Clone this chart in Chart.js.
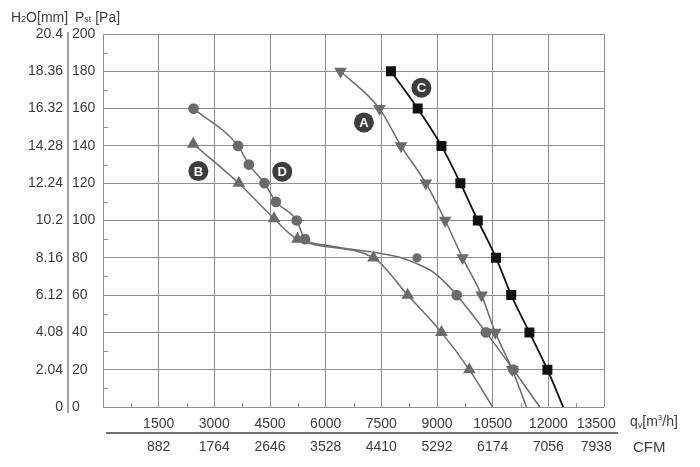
<!DOCTYPE html>
<html>
<head>
<meta charset="utf-8">
<script src="https://cdn.jsdelivr.net/npm/chart.js@4.4.0/dist/chart.umd.min.js"></script>
<style>
html, body { margin: 0; padding: 0; background: #fff; }
</style>
</head>
<body>
<canvas id="fanChart" width="700" height="467"></canvas>
<script>
// axis ticks
var qvTicks = [0, 1500, 3000, 4500, 6000, 7500, 9000, 10500, 12000, 13500];
var cfmTicks = ['', '882', '1764', '2646', '3528', '4410', '5292', '6174', '7056', '7938'];
var paTicks = [0, 20, 40, 60, 80, 100, 120, 140, 160, 180, 200];
var h2oTicks = ['0', '2.04', '4.08', '6.12', '8.16', '10.2', '12.24', '14.28', '16.32', '18.36', '20.4'];

// curve A (down triangles)
var aFlow = [6400, 7450, 8030, 8700, 9220, 9690, 10200, 10570, 11030, 11410];
var aPress = [180, 160, 140, 120, 100, 80, 60, 40, 20, 0];

// curve B (triangles)
var bFlow = [2430, 3660, 4610, 5240, 7290, 8210, 9120, 9870, 10500];
var bPress = [141, 120, 101, 90, 80, 60, 40, 20, 0];

// curve C (squares)
var cFlow = [7760, 8480, 9120, 9630, 10100, 10590, 11000, 11490, 11975, 12400];
var cPress = [180, 160, 140, 120, 100, 80, 60, 40, 20, 0];

// curve D (circles), dMark = 1 where a marker is drawn
var dFlow = [2440, 3640, 3930, 4350, 4660, 5220, 5440, 5970, 6640, 7450, 7990, 8440, 8880, 9240, 9530, 10320, 11060, 11770];
var dPress = [160, 140, 130, 120, 110, 100, 90, 86.9, 84.7, 82.4, 80.3, 77, 72.6, 66.3, 60, 40, 20, 0];
var dMark = [1, 1, 1, 1, 1, 1, 1, 0, 0, 0, 0, 0, 0, 0, 1, 1, 1, 0];
// stray D point off the curve
var dExtraFlow = [8460];
var dExtraPress = [80];

// curve letters
var curveNames = ['A', 'B', 'C', 'D'];
var nameFlow = [7030, 2570, 8580, 4830];
var namePress = [152.6, 126.5, 171.2, 126.2];

var textColor = '#3c3c3c';
var gridColor = '#8e8e8e';
var curveGrey = '#6b6b6b';
var fontFamily = '"Liberation Sans", Arial, sans-serif';

function toPoints(xs, ys) {
    return xs.map(function (x, i) { return { x: x, y: ys[i] }; });
}

// last bottom labels sit a bit left of the frame edge
function lastPad(label, i) {
    return i === qvTicks.length - 1 ? label + '    ' : label;
}

var fanExtras = {
    id: 'fanExtras',
    beforeDatasetsDraw: function (chart) {
        var ctx = chart.ctx, sx = chart.scales.x, sy = chart.scales.y;
        var area = chart.chartArea;
        ctx.save();
        ctx.strokeStyle = gridColor;
        ctx.lineWidth = 1;
        ctx.beginPath();
        for (var i = 0; i < qvTicks.length - 1; i++) {
            var px = Math.round(sx.getPixelForValue((qvTicks[i] + qvTicks[i + 1]) / 2)) + 0.5;
            ctx.moveTo(px, area.bottom);
            ctx.lineTo(px, area.bottom - 4);
        }
        for (var j = 0; j < paTicks.length - 1; j++) {
            var py = Math.round(sy.getPixelForValue((paTicks[j] + paTicks[j + 1]) / 2)) + 0.5;
            ctx.moveTo(area.left, py);
            ctx.lineTo(area.left + 5, py);
        }
        ctx.stroke();
        ctx.restore();
    },
    afterDraw: function (chart) {
        var ctx = chart.ctx, sx = chart.scales.x, sy = chart.scales.y;
        var area = chart.chartArea;
        ctx.save();

        // left separator and bottom separator
        ctx.strokeStyle = '#707070';
        ctx.lineWidth = 1.3;
        ctx.beginPath();
        ctx.moveTo(68, area.top - 2);
        ctx.lineTo(68, area.bottom + 6);
        ctx.stroke();
        ctx.lineWidth = 2;
        ctx.beginPath();
        ctx.moveTo(area.left + 3, 433);
        ctx.lineTo(618, 433);
        ctx.stroke();

        ctx.fillStyle = textColor;
        ctx.textBaseline = 'alphabetic';
        ctx.textAlign = 'left';
        function pieces(x, y, list) {
            list.forEach(function (p) {
                ctx.font = p[1] + 'px ' + fontFamily;
                ctx.fillText(p[0], x, y + (p[2] || 0));
                x += ctx.measureText(p[0]).width;
            });
        }
        pieces(11, 22, [['H', 14], ['2', 9], ['O[mm]', 14]]);
        pieces(75, 22, [['P', 14], ['st', 9], [' [Pa]', 14]]);
        pieces(630, 426, [['q', 14], ['v', 9, 2], ['[m', 14], ['3', 8, -6], ['/h]', 14]]);
        pieces(633, 452, [['CFM', 15]]);

        // curve badges
        curveNames.forEach(function (name, i) {
            var cx = sx.getPixelForValue(nameFlow[i]);
            var cy = sy.getPixelForValue(namePress[i]);
            ctx.fillStyle = '#3d3d3d';
            ctx.beginPath();
            ctx.arc(cx, cy, 10, 0, Math.PI * 2);
            ctx.fill();
            ctx.fillStyle = '#fff';
            ctx.font = 'bold 13px ' + fontFamily;
            ctx.textAlign = 'center';
            ctx.textBaseline = 'middle';
            ctx.fillText(name, cx, cy + 1);
        });
        ctx.restore();
    }
};

var tickFont = { family: fontFamily, size: 14 };

new Chart(document.getElementById('fanChart'), {
    type: 'line',
    data: {
        datasets: [{
            label: 'A',
            data: toPoints(aFlow, aPress),
            borderColor: curveGrey,
            backgroundColor: curveGrey,
            borderWidth: 1.5,
            pointStyle: 'triangle',
            rotation: 180,
            pointRadius: aPress.map(function (p) { return p === 0 ? 0 : 5.8; }),
            cubicInterpolationMode: 'monotone'
        }, {
            label: 'B',
            data: toPoints(bFlow, bPress),
            borderColor: curveGrey,
            backgroundColor: curveGrey,
            borderWidth: 1.5,
            pointStyle: 'triangle',
            pointRadius: bPress.map(function (p) { return p === 0 ? 0 : 5.8; }),
            cubicInterpolationMode: 'monotone'
        }, {
            label: 'C',
            data: toPoints(cFlow, cPress),
            borderColor: '#111',
            backgroundColor: '#111',
            borderWidth: 1.8,
            pointStyle: 'rect',
            pointRadius: cPress.map(function (p) { return p === 0 ? 0 : 5.8; }),
            cubicInterpolationMode: 'monotone'
        }, {
            label: 'D',
            data: toPoints(dFlow, dPress),
            borderColor: curveGrey,
            backgroundColor: curveGrey,
            borderWidth: 1.5,
            pointStyle: 'circle',
            pointRadius: dMark.map(function (m) { return m ? 4.6 : 0; }),
            cubicInterpolationMode: 'monotone'
        }, {
            label: 'D extra',
            data: toPoints(dExtraFlow, dExtraPress),
            showLine: false,
            backgroundColor: curveGrey,
            borderColor: curveGrey,
            pointStyle: 'circle',
            pointRadius: 4.6
        }]
    },
    options: {
        responsive: false,
        animation: false,
        events: [],
        layout: { padding: { top: 34, right: 96, bottom: 0, left: 0 } },
        plugins: { legend: { display: false }, tooltip: { enabled: false } },
        elements: { point: { borderWidth: 0 } },
        scales: {
            x: {
                type: 'linear', position: 'bottom', min: 0, max: 13500,
                afterBuildTicks: function (s) { s.ticks = qvTicks.map(function (v) { return { value: v }; }); },
                afterFit: function (s) { s.height = 26; },
                ticks: {
                    color: textColor, font: tickFont, padding: 9, maxRotation: 0, autoSkip: false,
                    callback: function (v, i) { return v === 0 ? '' : lastPad(String(v), i); }
                },
                grid: { color: gridColor, lineWidth: 1, drawTicks: false },
                border: { display: false }
            },
            x2: {
                type: 'linear', position: 'bottom', min: 0, max: 13500,
                afterBuildTicks: function (s) { s.ticks = qvTicks.map(function (v) { return { value: v }; }); },
                afterFit: function (s) { s.height = 34; },
                ticks: {
                    color: textColor, font: tickFont, padding: 6, maxRotation: 0, autoSkip: false,
                    callback: function (v, i) { return lastPad(cfmTicks[i], i); }
                },
                grid: { display: false, drawTicks: false },
                border: { display: false }
            },
            y: {
                type: 'linear', position: 'left', min: 0, max: 200,
                afterBuildTicks: function (s) { s.ticks = paTicks.map(function (v) { return { value: v }; }); },
                afterFit: function (s) { s.width = 31; },
                ticks: { color: textColor, font: tickFont, crossAlign: 'far', autoSkip: false },
                grid: { color: gridColor, lineWidth: 1, drawTicks: false },
                border: { display: false }
            },
            y2: {
                type: 'linear', position: 'left', min: 0, max: 200,
                afterBuildTicks: function (s) { s.ticks = paTicks.map(function (v) { return { value: v }; }); },
                afterFit: function (s) { s.width = 72; },
                ticks: {
                    color: textColor, font: tickFont, padding: 9, autoSkip: false,
                    callback: function (v, i) { return h2oTicks[i]; }
                },
                grid: { display: false, drawTicks: false },
                border: { display: false }
            }
        }
    },
    plugins: [fanExtras]
});
</script>
</body>
</html>
